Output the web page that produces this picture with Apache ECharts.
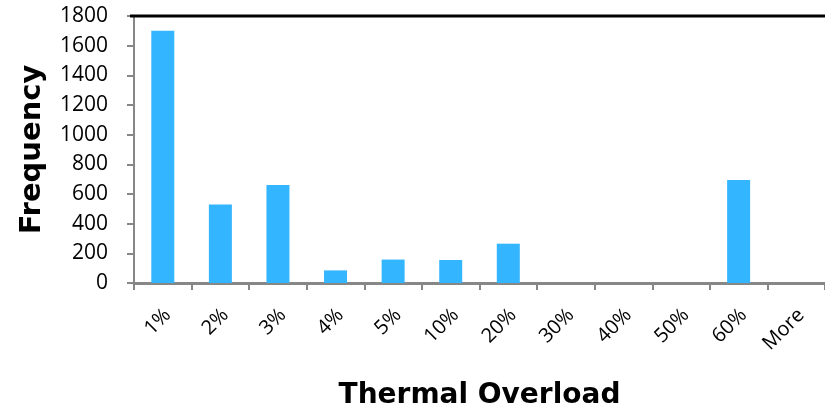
<!DOCTYPE html>
<html>
<head>
<meta charset="utf-8">
<script src="https://cdn.jsdelivr.net/npm/echarts@6/dist/echarts.min.js"></script>
<style>
  html, body { margin: 0; padding: 0; background: #ffffff; }
  #chart { width: 825px; height: 415px; }
</style>
</head>
<body>
<div id="chart"></div>
<script>
// Histogram bins and counts
const categories = ['1%', '2%', '3%', '4%', '5%', '10%', '20%', '30%', '40%', '50%', '60%', 'More'];
const frequency = [1700, 530, 660, 85, 158, 155, 265, 0, 0, 0, 695, 0];

// Value axis range
const yMin = 0;
const yMax = 1800;
const yStep = 200;

const FONT = '"Open Sans", "Noto Sans", sans-serif';
const TITLE_FONT = '"DejaVu Sans", "Open Sans", sans-serif';
const AXIS_GREY = '#878787';

const chart = echarts.init(document.getElementById('chart'), null, { renderer: 'canvas' });

chart.setOption({
  animation: false,
  backgroundColor: '#ffffff',
  grid: { left: 134, top: 16, width: 699, height: 270, containLabel: false },
  xAxis: {
    type: 'category',
    data: categories,
    boundaryGap: true,
    name: 'Thermal Overload',
    nameLocation: 'middle',
    nameGap: 99,
    nameTextStyle: { fontFamily: TITLE_FONT, fontWeight: 'bold', fontSize: 28, color: '#000' },
    axisLine: { show: true, lineStyle: { color: AXIS_GREY, width: 3 } },
    axisTick: { show: true, alignWithLabel: false, length: 7, lineStyle: { color: AXIS_GREY, width: 2 } },
    axisLabel: {
      rotate: 45,
      margin: 24,
      interval: 0,
      fontFamily: FONT,
      fontSize: 20,
      lineHeight: 14,
      verticalAlign: 'top',
      color: '#000'
    },
    splitLine: { show: false }
  },
  yAxis: {
    type: 'value',
    min: yMin,
    max: yMax,
    interval: yStep,
    name: 'Frequency',
    nameLocation: 'middle',
    nameGap: 87,
    nameRotate: 90,
    nameTextStyle: { fontFamily: TITLE_FONT, fontWeight: 'bold', fontSize: 29, color: '#000' },
    axisLine: { show: true, lineStyle: { color: AXIS_GREY, width: 2 } },
    axisTick: { show: true, length: 7, lineStyle: { color: AXIS_GREY, width: 2 } },
    axisLabel: {
      margin: 26,
      fontFamily: FONT,
      fontSize: 21,
      color: '#000',
      formatter: (v) => String(v)
    },
    splitLine: { show: false }
  },
  series: [{
    type: 'bar',
    data: frequency,
    barWidth: 23,
    itemStyle: { color: '#33B5FF' }
  }],
  graphic: [{
    type: 'line',
    shape: { x1: 130, y1: 16, x2: 825, y2: 16 },
    style: { stroke: '#000000', lineWidth: 3 },
    z: 100
  }]
});
</script>
</body>
</html>
